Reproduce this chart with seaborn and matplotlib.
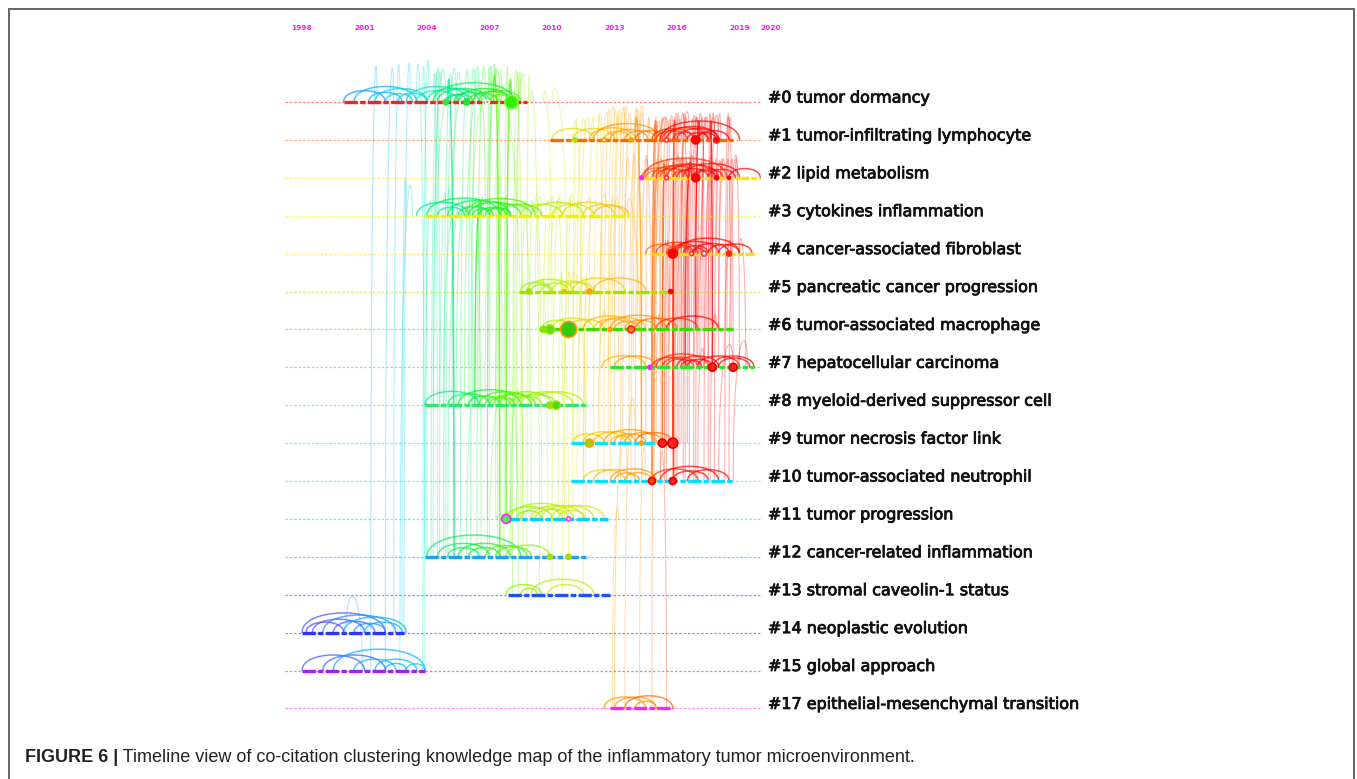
"""CiteSpace-style timeline view of co-citation clusters (Figure 6)."""
import matplotlib
matplotlib.use('Agg')
import matplotlib.pyplot as plt
import matplotlib.patheffects as pe
from matplotlib.lines import Line2D
import numpy as np
import pandas as pd
import seaborn as sns

# ---------------------------------------------------------------- data
CLUSTER_IDS = [0, 1, 2, 3, 4, 5, 6, 7, 8, 9, 10, 11, 12, 13, 14, 15, 17]
CLUSTER_NAMES = [
    'tumor dormancy', 'tumor-infiltrating lymphocyte', 'lipid metabolism',
    'cytokines inflammation', 'cancer-associated fibroblast',
    'pancreatic cancer progression', 'tumor-associated macrophage',
    'hepatocellular carcinoma', 'myeloid-derived suppressor cell',
    'tumor necrosis factor link', 'tumor-associated neutrophil',
    'tumor progression', 'cancer-related inflammation',
    'stromal caveolin-1 status', 'neoplastic evolution', 'global approach',
    'epithelial-mesenchymal transition',
]
BAR_START = [2000.0, 2009.9, 2014.3, 2003.9, 2014.8, 2008.4, 2009.4, 2012.8,
             2003.9, 2010.9, 2010.9, 2007.8, 2003.9, 2007.9, 1998.0, 1998.0,
             2012.8]
BAR_END = [2008.8, 2018.7, 2020.0, 2013.7, 2019.7, 2015.7, 2018.7, 2019.7,
           2011.7, 2015.8, 2018.7, 2012.7, 2011.7, 2012.8, 2002.9, 2003.9,
           2015.8]
BAR_COLORS = ['#ff1e1e', '#ff6a00', '#ffe600', '#f5f000', '#ffdc00',
              '#a0e600', '#3cdc00', '#28e628', '#2ee86e', '#00e5ff',
              '#00e0ff', '#00d0ff', '#1ea0ff', '#1e50ff', '#3232ff',
              '#a020f0', '#ff20ff']

TICK_YEARS = [1998, 2001, 2004, 2007, 2010, 2013, 2016, 2019, 2020]
TIMELINE = (1997.2, 2020.0)

YEARS = list(range(1998, 2021))
YEAR_COLORS = ['#7b00ff', '#5a3cff', '#3c5aff', '#1e8cff', '#00b4ff',
               '#00d2f0', '#00e6b4', '#00eb8c', '#00f05a', '#14f01e',
               '#50f000', '#8cf000', '#b4f000', '#d2e600', '#f0d200',
               '#ffb400', '#ff9600', '#ff6400', '#ff2800', '#ff0000',
               '#ff0000', '#ff0000', '#ff0000']

# within-cluster co-citation arcs: cluster -> [(year_a, year_b)]
ARCS = {
    0: [(2000.0, 2002.0), (2000.5, 2003.5), (2001.2, 2002.8), (2001.5, 2004.0),
        (2002.0, 2003.3), (2002.6, 2004.0), (2003.5, 2005.5), (2004.0, 2006.5),
        (2004.5, 2007.0), (2005.0, 2006.2), (2005.5, 2008.0), (2006.0, 2007.4),
        (2006.5, 2008.5), (2007.0, 2008.0), (2004.3, 2008.2), (2003.0, 2006.0),
        (2005.3, 2006.9), (2006.2, 2008.05), (2004.9, 2005.9)],
    1: [(2010.0, 2012.0), (2011.0, 2013.0), (2011.8, 2014.0), (2012.5, 2013.8),
        (2012.0, 2015.2), (2013.5, 2015.0), (2014.0, 2015.5), (2015.0, 2016.5),
        (2015.3, 2017.5), (2016.0, 2018.0), (2016.5, 2017.5), (2017.0, 2018.5),
        (2015.5, 2018.0), (2014.8, 2016.8), (2012.8, 2014.6), (2015.8, 2016.9),
        (2016.9, 2017.9), (2015.2, 2019.0)],
    2: [(2014.3, 2016.0), (2014.8, 2017.0), (2015.0, 2016.5), (2015.5, 2018.0),
        (2016.0, 2017.5), (2016.3, 2019.0), (2016.8, 2018.2), (2017.5, 2018.8),
        (2015.2, 2017.8), (2018.5, 2020.0), (2014.5, 2015.5), (2015.8, 2016.9),
        (2016.9, 2017.9), (2014.4, 2018.4)],
    3: [(2003.5, 2006.0), (2004.0, 2007.5), (2004.5, 2005.8), (2005.0, 2008.0),
        (2005.5, 2007.0), (2006.0, 2008.5), (2006.5, 2007.8), (2007.0, 2009.0),
        (2007.5, 2009.5), (2008.5, 2010.5), (2009.0, 2011.5), (2010.0, 2012.0),
        (2010.5, 2013.0), (2011.5, 2013.5), (2006.2, 2007.2), (2006.8, 2008.0),
        (2005.8, 2009.2), (2012.0, 2013.7)],
    4: [(2014.5, 2016.0), (2015.0, 2017.0), (2015.5, 2016.8), (2015.8, 2018.0),
        (2016.3, 2017.5), (2016.8, 2018.5), (2017.5, 2019.0), (2018.0, 2019.6),
        (2016.0, 2019.0), (2015.8, 2016.7), (2016.7, 2017.3)],
    5: [(2008.5, 2010.0), (2008.8, 2011.0), (2009.5, 2010.8), (2010.0, 2011.8),
        (2010.5, 2012.0), (2011.0, 2013.5), (2012.0, 2014.5), (2009.0, 2009.9)],
    6: [(2009.5, 2011.0), (2010.0, 2012.0), (2010.8, 2012.5), (2011.5, 2014.0),
        (2012.3, 2014.5), (2012.8, 2015.5), (2013.5, 2015.0), (2014.0, 2016.0),
        (2015.0, 2017.0), (2015.5, 2018.0), (2012.0, 2013.8), (2013.0, 2014.2)],
    7: [(2012.4, 2014.5), (2013.0, 2015.0), (2014.8, 2016.5), (2015.0, 2017.5),
        (2015.5, 2016.8), (2016.0, 2018.0), (2016.5, 2017.7), (2017.0, 2019.0),
        (2017.7, 2019.7), (2018.0, 2019.5), (2015.3, 2017.0), (2016.2, 2017.2)],
    8: [(2003.9, 2006.5), (2005.0, 2007.0), (2005.5, 2008.5), (2006.0, 2007.5),
        (2006.5, 2009.0), (2007.0, 2008.0), (2007.5, 2010.0), (2008.0, 2009.5),
        (2008.5, 2011.0), (2009.0, 2011.5), (2006.8, 2008.2), (2007.2, 2009.2),
        (2008.3, 2010.2)],
    9: [(2011.0, 2012.5), (2011.5, 2013.5), (2012.0, 2014.0), (2012.5, 2015.0),
        (2013.0, 2014.5), (2013.5, 2015.3), (2014.0, 2015.8), (2012.8, 2013.8)],
    10: [(2011.5, 2013.5), (2012.0, 2014.0), (2012.8, 2015.0), (2013.5, 2014.8),
         (2014.8, 2017.0), (2015.2, 2018.0), (2015.8, 2017.5), (2016.5, 2018.5),
         (2013.0, 2014.2)],
    11: [(2007.8, 2010.0), (2008.0, 2011.0), (2008.5, 2010.5), (2009.0, 2011.5),
         (2009.5, 2012.0), (2010.0, 2012.5), (2008.3, 2009.5), (2009.2, 2010.8),
         (2010.3, 2011.6)],
    12: [(2004.5, 2007.0), (2005.0, 2006.5), (2005.5, 2008.0), (2006.0, 2007.5),
         (2006.8, 2008.8), (2007.3, 2009.0), (2004.0, 2008.5), (2007.8, 2009.9)],
    13: [(2007.8, 2009.5), (2008.5, 2009.3), (2009.0, 2012.0), (2009.8, 2011.5)],
    14: [(1998.0, 2002.0), (1998.5, 2001.0), (1999.0, 2002.5), (1999.5, 2001.5),
         (2000.0, 2003.0), (2000.5, 2002.0), (2001.0, 2002.8), (1998.2, 2000.0)],
    15: [(1998.0, 2001.0), (1999.0, 2002.0), (1999.5, 2003.9), (2000.5, 2002.5),
         (2001.5, 2003.5), (2002.0, 2003.0), (2003.0, 2003.9)],
    17: [(2012.5, 2014.5), (2013.0, 2015.0), (2013.5, 2015.8), (2014.0, 2015.0)],
}

# between-cluster links: (cluster_a, year_a, cluster_b, year_b, rise above upper row)
LINKS = [
    # 1998-2004, light cyan
    (14, 2000.1, 15, 2000.9, 0.95), (15, 2001.3, 0, 2001.6, 0.95),
    (15, 2002.0, 0, 2002.4, 0.9), (14, 2002.9, 0, 2003.2, 1.05),
    (15, 2003.9, 0, 2003.5, 1.0), (14, 2002.8, 3, 2003.0, 1.0),
    (15, 2003.8, 0, 2004.1, 1.1), (12, 2004.2, 0, 2004.6, 0.9),
    (12, 2004.0, 0, 2003.8, 0.95), (8, 2004.3, 0, 2004.9, 0.85),
    (14, 2002.4, 0, 2002.7, 1.0), (15, 2002.7, 3, 2003.3, 0.8),
    # 2004-2009, green
    (12, 2004.3, 0, 2004.7, 0.8), (12, 2004.8, 0, 2005.2, 0.75),
    (12, 2005.3, 3, 2005.0, 0.7), (8, 2005.2, 0, 2005.6, 0.8),
    (12, 2005.6, 0, 2006.0, 0.85), (8, 2006.0, 0, 2006.3, 0.9),
    (8, 2006.5, 3, 2006.7, 0.5), (12, 2006.4, 0, 2006.8, 0.95),
    (12, 2006.9, 0, 2007.3, 1.0), (8, 2007.0, 0, 2007.1, 0.95),
    (12, 2007.4, 3, 2007.6, 0.5), (8, 2007.6, 0, 2007.2, 0.9),
    (11, 2008.3, 0, 2008.5, 0.8), (12, 2008.6, 0, 2008.2, 0.85),
    (13, 2008.8, 0, 2008.9, 0.7), (8, 2008.9, 3, 2009.1, 0.4),
    (12, 2003.9, 3, 2004.2, 0.4), (11, 2008.5, 3, 2008.8, 0.4),
    (3, 2004.5, 0, 2005.5, 0.4), (3, 2005.2, 0, 2006.0, 0.35),
    (8, 2005.8, 0, 2006.6, 0.45), (3, 2006.2, 0, 2007.5, 0.5),
    (8, 2004.8, 3, 2005.5, 0.3), (12, 2005.9, 8, 2006.4, 0.4),
    (12, 2007.0, 8, 2007.8, 0.4), (13, 2008.4, 8, 2008.0, 0.3),
    (11, 2007.3, 0, 2007.6, 0.85), (12, 2004.6, 3, 2004.9, 0.6),
    (8, 2007.3, 3, 2007.9, 0.5), (11, 2009.0, 3, 2008.6, 0.35),
    (12, 2004.9, 0, 2005.4, 0.9), (8, 2004.6, 0, 2004.4, 0.8),
    (12, 2005.0, 3, 2005.7, 0.45), (8, 2005.4, 3, 2005.9, 0.4),
    (12, 2006.1, 0, 2006.5, 0.95), (11, 2006.9, 0, 2007.0, 0.9),
    (8, 2006.8, 0, 2007.5, 0.85), (12, 2007.7, 0, 2007.9, 0.95),
    (13, 2008.1, 0, 2008.4, 0.8), (11, 2008.0, 3, 2007.7, 0.4),
    (12, 2006.6, 3, 2006.3, 0.5), (8, 2008.2, 0, 2008.7, 0.75),
    (12, 2008.0, 8, 2008.4, 0.4), (3, 2006.8, 0, 2006.5, 0.3),
    (3, 2007.3, 0, 2008.0, 0.5), (8, 2006.2, 3, 2006.0, 0.35),
    (12, 2004.5, 0, 2004.3, 0.75), (11, 2008.6, 0, 2007.4, 0.45),
    # 2009-2012, yellow-green
    (6, 2009.6, 3, 2009.9, 0.4), (5, 2009.2, 3, 2009.5, 0.5),
    (11, 2009.5, 3, 2009.2, 0.6), (6, 2010.0, 0, 2009.6, 0.3),
    (11, 2010.3, 5, 2010.5, 0.5), (13, 2010.0, 3, 2010.4, 0.5),
    (6, 2010.8, 3, 2011.0, 0.6), (11, 2011.0, 1, 2011.2, 0.6),
    (5, 2011.4, 1, 2011.0, 0.5), (13, 2011.5, 5, 2011.7, 0.4),
    (6, 2011.8, 1, 2012.0, 0.6), (9, 2011.0, 3, 2011.3, 0.4),
    (10, 2011.2, 5, 2011.6, 0.4), (8, 2010.5, 3, 2010.2, 0.4),
    (12, 2009.8, 5, 2009.5, 0.4), (12, 2010.8, 6, 2010.4, 0.3),
    (13, 2009.4, 0, 2009.0, 0.3), (9, 2011.6, 5, 2010.9, 0.5),
    (6, 2009.8, 3, 2010.1, 0.5), (5, 2009.9, 3, 2010.6, 0.45),
    (11, 2010.6, 3, 2010.9, 0.5), (6, 2011.2, 1, 2011.6, 0.55),
    (5, 2010.7, 0, 2010.0, 0.35), (13, 2010.5, 5, 2010.9, 0.5),
    (11, 2011.6, 5, 2012.0, 0.4), (6, 2011.4, 3, 2011.9, 0.45),
    (9, 2011.3, 1, 2011.8, 0.6), (10, 2011.5, 3, 2012.2, 0.4),
    # 2012-2015, orange
    (9, 2012.0, 1, 2012.4, 0.7), (10, 2012.5, 1, 2012.8, 0.8),
    (7, 2012.7, 1, 2013.0, 0.9), (9, 2013.0, 1, 2013.3, 0.8),
    (10, 2013.3, 1, 2013.6, 0.9), (6, 2013.5, 1, 2013.8, 0.7),
    (9, 2013.7, 2, 2014.0, 0.6), (7, 2013.9, 1, 2014.2, 0.8),
    (10, 2014.0, 1, 2014.4, 0.9), (6, 2012.3, 3, 2012.6, 0.6),
    (5, 2012.4, 1, 2012.2, 0.7), (9, 2014.5, 1, 2014.7, 0.6),
    (10, 2014.8, 2, 2014.5, 0.5), (17, 2013.0, 10, 2013.6, 1.3),
    (17, 2013.5, 9, 2014.0, 1.2), (17, 2014.2, 10, 2014.5, 0.9),
    (17, 2014.8, 7, 2015.0, 0.9), (6, 2012.9, 3, 2013.2, 0.5),
    (10, 2012.2, 6, 2012.6, 0.5), (9, 2014.9, 1, 2015.0, 0.6),
    (9, 2012.3, 1, 2012.7, 0.75), (10, 2012.8, 1, 2013.1, 0.8),
    (7, 2013.2, 1, 2013.5, 0.85), (9, 2013.4, 2, 2013.7, 0.55),
    (10, 2013.8, 1, 2014.1, 0.85), (6, 2014.1, 1, 2014.4, 0.7),
    (7, 2014.3, 2, 2014.6, 0.6), (9, 2012.7, 3, 2013.0, 0.5),
    (10, 2014.3, 3, 2013.6, 0.45), (6, 2013.0, 1, 2013.2, 0.65),
    (17, 2012.9, 11, 2013.2, 0.3), (17, 2015.5, 10, 2015.2, 0.8),
    # 2015-2019, red
    (4, 2014.9, 1, 2015.2, 0.5), (6, 2015.0, 1, 2015.4, 0.6),
    (7, 2015.3, 2, 2015.6, 0.5), (9, 2015.3, 1, 2015.5, 0.6),
    (10, 2015.8, 1, 2016.0, 0.7), (9, 2015.8, 2, 2016.1, 0.6),
    (4, 2015.8, 1, 2015.9, 0.6), (7, 2016.2, 1, 2016.4, 0.7),
    (6, 2016.5, 2, 2016.7, 0.5), (10, 2016.3, 2, 2016.8, 0.6),
    (7, 2016.8, 1, 2017.0, 0.6), (4, 2016.9, 2, 2017.1, 0.4),
    (6, 2017.2, 1, 2017.4, 0.6), (10, 2017.5, 1, 2017.6, 0.7),
    (7, 2017.7, 2, 2017.9, 0.5), (4, 2017.6, 1, 2017.8, 0.6),
    (6, 2018.0, 2, 2018.2, 0.5), (10, 2018.3, 1, 2018.5, 0.7),
    (7, 2018.7, 1, 2018.4, 0.6), (4, 2018.5, 2, 2018.7, 0.5),
    (9, 2014.9, 2, 2015.1, 0.5), (10, 2015.2, 1, 2015.0, 0.5),
    (7, 2015.6, 4, 2015.8, 0.3), (6, 2016.0, 4, 2016.2, 0.3),
    (10, 2015.9, 2, 2016.3, 0.5), (7, 2017.0, 4, 2017.3, 0.3),
    (6, 2017.4, 2, 2017.6, 0.4), (10, 2016.9, 4, 2017.1, 0.3),
    (7, 2019.0, 2, 2018.8, 0.5), (10, 2017.0, 7, 2017.3, 0.5),
    (10, 2018.0, 7, 2018.7, 0.6), (9, 2016.2, 4, 2016.5, 0.4),
    (7, 2014.8, 1, 2015.6, 0.6), (10, 2016.6, 1, 2016.2, 0.7),
    (9, 2015.4, 1, 2015.7, 0.55), (10, 2015.5, 1, 2015.8, 0.65),
    (7, 2015.9, 1, 2016.1, 0.7), (6, 2015.6, 2, 2015.9, 0.45),
    (9, 2016.1, 2, 2016.4, 0.5), (10, 2016.0, 1, 2016.6, 0.75),
    (7, 2016.3, 2, 2016.5, 0.45), (6, 2016.2, 1, 2016.5, 0.6),
    (4, 2016.0, 1, 2016.2, 0.55), (10, 2016.4, 2, 2016.1, 0.5),
    (7, 2016.6, 1, 2016.9, 0.65), (6, 2016.7, 1, 2017.0, 0.6),
    (9, 2016.5, 1, 2016.8, 0.55), (10, 2016.8, 1, 2017.2, 0.7),
    (7, 2017.1, 2, 2017.4, 0.5), (6, 2017.0, 2, 2017.2, 0.45),
    (4, 2017.2, 1, 2017.5, 0.6), (10, 2017.3, 2, 2017.7, 0.55),
    (7, 2017.5, 1, 2017.8, 0.7), (6, 2017.6, 1, 2018.0, 0.65),
    (4, 2017.9, 2, 2018.1, 0.45), (10, 2017.8, 1, 2018.1, 0.7),
    (7, 2018.0, 2, 2018.3, 0.5), (6, 2018.4, 1, 2018.6, 0.6),
    (10, 2018.5, 2, 2018.9, 0.6), (7, 2018.3, 4, 2018.6, 0.35),
    (6, 2015.3, 4, 2015.5, 0.3), (10, 2015.4, 4, 2015.6, 0.35),
    (9, 2015.6, 4, 2015.9, 0.3), (7, 2015.2, 1, 2015.3, 0.55),
    (6, 2014.9, 2, 2015.2, 0.4), (10, 2014.9, 2, 2015.3, 0.5),
    (4, 2015.3, 2, 2015.5, 0.35), (4, 2016.4, 2, 2016.6, 0.4),
    (7, 2019.3, 4, 2019.0, 0.4), (10, 2018.7, 7, 2019.4, 0.7),
    (9, 2015.0, 6, 2015.2, 0.4), (10, 2017.6, 6, 2017.9, 0.4),
    (7, 2017.3, 1, 2017.2, 0.6), (6, 2018.6, 2, 2018.4, 0.5),
]

# more saturated links
STRONG_LINKS = [
    (11, 2007.8, 0, 2008.05, 0.6), (12, 2007.5, 0, 2007.2, 0.7),
    (9, 2015.8, 1, 2015.9, 0.5), (9, 2015.3, 2, 2015.4, 0.4),
    (7, 2016.4, 2, 2016.7, 0.4), (6, 2016.9, 1, 2017.1, 0.5),
    (10, 2015.8, 4, 2015.8, 0.3), (8, 2006.3, 3, 2006.6, 0.4),
    (12, 2005.3, 0, 2005.0, 0.6), (10, 2014.8, 1, 2015.0, 0.5),
    (7, 2017.7, 1, 2017.6, 0.5), (9, 2014.3, 1, 2014.0, 0.6),
]

# citation nodes: (cluster, year, radius px, fill, ring)
NODES = [
    (0, 2004.9, 2.5, '#40e040', '#40e040'), (0, 2005.9, 3.0, '#30dd30', '#30dd30'),
    (0, 2006.9, 2.0, '#40e040', '#ffffff'), (0, 2008.05, 6.5, '#33ee00', '#66ff33'),
    (1, 2011.1, 2.0, '#a8e000', '#a8e000'), (1, 2012.5, 2.0, '#ffffff', '#ffa000'),
    (1, 2013.8, 2.0, '#ffa000', '#ffa000'), (1, 2015.5, 2.0, '#ffffff', '#ff3030'),
    (1, 2016.9, 4.0, '#ff0000', '#ff0000'), (1, 2017.9, 3.0, '#ff0000', '#ff2020'),
    (2, 2014.3, 1.8, '#ff20ff', '#ff20ff'), (2, 2015.5, 2.0, '#ffffff', '#ff3030'),
    (2, 2016.9, 4.0, '#ff0000', '#ff0000'), (2, 2017.9, 2.0, '#ff0000', '#ff0000'),
    (2, 2018.5, 1.5, '#ff0000', '#ff0000'),
    (4, 2015.8, 4.5, '#ff0000', '#ff0000'), (4, 2016.7, 2.0, '#ffffff', '#ff3030'),
    (4, 2017.3, 2.5, '#ffffff', '#ff3030'), (4, 2018.5, 2.5, '#ff2020', '#ff2020'),
    (5, 2008.9, 2.5, '#a0e000', '#a0e000'), (5, 2010.6, 2.0, '#e0c000', '#e0c000'),
    (5, 2011.8, 2.5, '#ffa000', '#ffa000'), (5, 2015.7, 2.0, '#ff0000', '#ff0000'),
    (6, 2009.6, 3.0, '#8ae000', '#8ae000'), (6, 2009.9, 4.5, '#60dd10', '#9ae000'),
    (6, 2010.8, 8.0, '#30cc10', '#ff9a00'), (6, 2012.8, 2.0, '#ffa000', '#ffa000'),
    (6, 2013.8, 3.5, '#ff8000', '#ff2020'),
    (7, 2014.7, 2.0, '#ff20ff', '#ff20ff'), (7, 2017.7, 4.0, '#ff2020', '#e00000'),
    (7, 2018.7, 4.0, '#ff2020', '#e00000'),
    (8, 2009.9, 3.0, '#90e000', '#90e000'), (8, 2010.2, 4.0, '#40dd20', '#90e000'),
    (9, 2011.8, 4.0, '#a0d000', '#ffa000'), (9, 2014.3, 2.0, '#ffa000', '#ffa000'),
    (9, 2015.3, 4.0, '#ff2020', '#e00000'), (9, 2015.8, 5.0, '#ff2020', '#e00000'),
    (10, 2014.8, 3.5, '#ff4000', '#e00000'), (10, 2015.8, 3.5, '#ff2020', '#e00000'),
    (11, 2007.8, 4.5, '#60e060', '#ff20ff'), (11, 2010.8, 2.0, '#ffffff', '#ff40ff'),
    (12, 2009.9, 2.5, '#a0e000', '#a0e000'), (12, 2010.8, 2.5, '#a0e000', '#a0e000'),
]

CAPTION_BOLD = 'FIGURE 6 |'
CAPTION_TEXT = (' Timeline view of co-citation clustering knowledge map of the '
                'inflammatory tumor microenvironment.')

# ---------------------------------------------------------------- layout
W, H = 1357, 779
PX_YEAR = 20.83          # pixels per year
PX_ROW = 37.9            # pixels per cluster row
X0_PX, Y0_PX = 302, 102  # pixel of 1998 / row 0

sns.set_theme(style='white')
plt.rcParams['font.family'] = ['DejaVu Sans']

fig = plt.figure(figsize=(W / 100, H / 100), dpi=100)
ax = fig.add_axes([0, 0, 1, 1])
ax.set_xlim(1998 - X0_PX / PX_YEAR, 1998 + (W - X0_PX) / PX_YEAR)
ax.set_ylim((H - Y0_PX) / PX_ROW, -Y0_PX / PX_ROW)
ax.axis('off')

pos = {cid: i for i, cid in enumerate(CLUSTER_IDS)}
year_color = dict(zip(YEARS, YEAR_COLORS))


def color_for(y):
    return year_color[int(np.clip(round(y), YEARS[0], YEARS[-1]))]


def curve(xa, ya, xb, yb, peak, n=90):
    """Cubic arc from (xa, ya) to (xb, yb) whose top reaches `peak`."""
    t = np.linspace(0, 1, n)
    base = (1 - t) ** 3 * ya + t ** 3 * yb
    w = 3 * t * (1 - t)
    c = np.max((peak - base[1:-1]) / w[1:-1])
    y = base + w * c
    x = ((1 - t) ** 3 + 3 * (1 - t) ** 2 * t) * xa + (3 * (1 - t) * t ** 2 + t ** 3) * xb
    return x, y


# between-cluster links
for links, alpha, lw in ((LINKS, 0.3, 0.8), (STRONG_LINKS, 0.75, 1.0)):
    for ca, xa, cb, xb, rise in links:
        ya, yb = pos[ca], pos[cb]
        x, y = curve(xa, ya, xb, yb, min(ya, yb) - rise)
        ax.plot(x, y, color=color_for(max(xa, xb)), alpha=alpha, lw=lw,
                solid_capstyle='round', zorder=1)

# dotted baselines for every cluster
base = pd.DataFrame({
    'cluster': np.repeat(CLUSTER_IDS, 2),
    'row': np.repeat([pos[c] for c in CLUSTER_IDS], 2),
    'year': np.tile(TIMELINE, len(CLUSTER_IDS)),
})
sns.lineplot(data=base, x='year', y='row', hue='cluster',
             palette=dict(zip(CLUSTER_IDS, BAR_COLORS)), units='cluster',
             estimator=None, sort=False, legend=False, ax=ax,
             lw=0.9, alpha=0.55, linestyle=(0, (2, 1.5)), zorder=2)

# within-cluster arcs
for cid, arcs in ARCS.items():
    r = pos[cid]
    for xa, xb in arcs:
        w_px = abs(xb - xa) * PX_YEAR
        h = (0.2 * w_px + 3) / PX_ROW
        x, y = curve(xa, r, xb, r, r - h)
        ax.plot(x, y, color=color_for((xa + xb) / 2), alpha=0.7, lw=1.1, zorder=3)

# cluster duration bars
bars = pd.DataFrame({
    'cluster': np.repeat(CLUSTER_IDS, 2),
    'row': np.repeat([pos[c] for c in CLUSTER_IDS], 2),
    'year': np.ravel(list(zip(BAR_START, BAR_END))),
})
sns.lineplot(data=bars, x='year', y='row', hue='cluster',
             palette=dict(zip(CLUSTER_IDS, BAR_COLORS)), units='cluster',
             estimator=None, sort=False, legend=False, ax=ax,
             lw=2.4, linestyle=(0, (4, 0.7, 1.6, 0.7)), zorder=4)

# citation nodes
nd = pd.DataFrame(NODES, columns=['cluster', 'year', 'r', 'fill', 'ring'])
ax.scatter(nd['year'], nd['cluster'].map(pos), s=(1.44 * nd['r']) ** 2,
           c=nd['fill'], edgecolors=nd['ring'], linewidths=1.2, zorder=5)

# cluster labels
for cid, name in zip(CLUSTER_IDS, CLUSTER_NAMES):
    ax.text(TIMELINE[1] + 0.37, pos[cid] - 4 / PX_ROW, f'#{cid} {name}',
            va='center', ha='left', fontsize=11.5, color='#111111', zorder=6,
            path_effects=[pe.withStroke(linewidth=0.6, foreground='#111111')])

# year ticks on top
for yr in TICK_YEARS:
    ax.text(yr, -Y0_PX / PX_ROW + 28 / PX_ROW, str(yr),
            ha='left' if yr == TIMELINE[1] else 'center', va='center',
            fontsize=5.3, fontweight='bold', color='#ee22ee')

# frame
for xs, ys in (([9, 1354], [8.5, 8.5]), ([9, 9], [8.5, H]), ([1354, 1354], [8.5, H])):
    fig.add_artist(Line2D(np.array(xs) / W, 1 - np.array(ys) / H,
                          transform=fig.transFigure, color='#666666', lw=1.4))

# caption
t1 = fig.text(25 / W, 1 - 757 / H, CAPTION_BOLD, fontsize=13, fontweight='bold',
              family='Liberation Sans', color='#222222', va='center')
fig.canvas.draw()
bb = t1.get_window_extent()
fig.text(bb.x1 / W, 1 - 757 / H, CAPTION_TEXT, fontsize=13,
         family='Liberation Sans', color='#222222', va='center')

fig.savefig('out.png', dpi=100)
